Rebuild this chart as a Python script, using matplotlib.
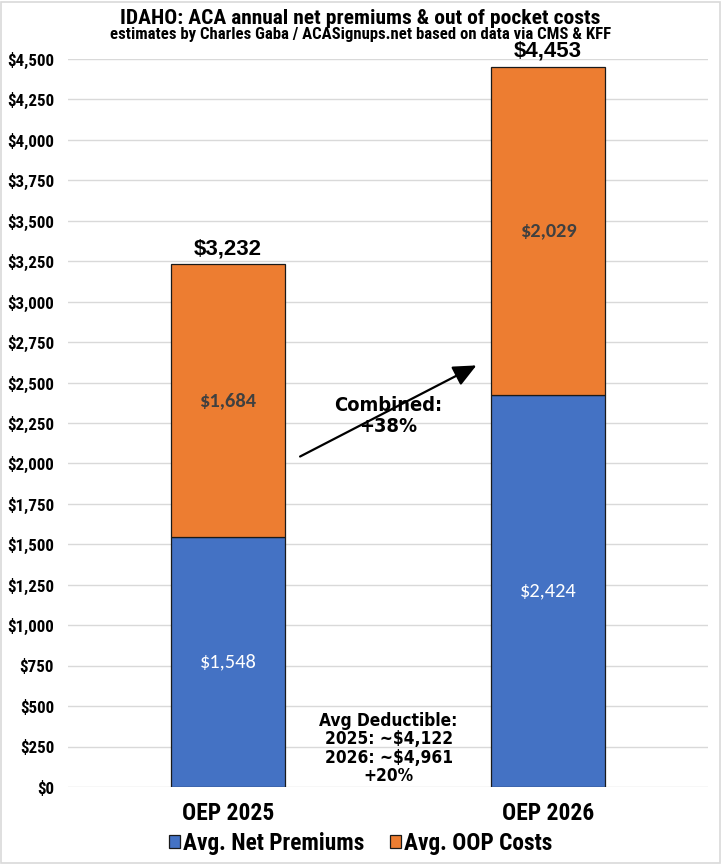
import numpy as np
import matplotlib.pyplot as plt
from matplotlib.patches import FancyArrowPatch, Rectangle

# 数据
cats = ['OEP 2025', 'OEP 2026']
premiums = [1548, 2424]
oop = [1684, 2029]
totals = [3232, 4453]
yticks = np.arange(0, 4750, 250)
series_names = ['Avg. Net Premiums', 'Avg. OOP Costs']
title = 'IDAHO: ACA annual net premiums & out of pocket costs'
subtitle = 'estimates by Charles Gaba / ACASignups.net based on data via CMS & KFF'
combined_txt = 'Combined:\n+38%'
deduct_txt = 'Avg Deductible:\n2025: ~$4,122\n2026: ~$4,961\n+20%'

narrow = ['Liberation Sans Narrow', 'Roboto Condensed', 'Archivo Narrow', 'DejaVu Sans']
rounded = ['Carlito', 'Lato', 'DejaVu Sans']
arial = ['Liberation Sans', 'DejaVu Sans']
blue = '#4472C4'
orange = '#ED7D31'

fig = plt.figure(figsize=(7.21, 8.64), dpi=100)
rend = fig.canvas.get_renderer()


def size_for(s, w, **kw):
    # 按目标像素宽度反推字号
    t = fig.text(0, 0, s, fontsize=10, **kw)
    bw = t.get_window_extent(rend).width
    t.remove()
    return 10.0 * w / bw


ax = fig.add_axes([0.0943, 0.0891, 0.8877, 0.8426])

x = np.arange(len(cats))
w = 0.354
ax.bar(x, premiums, w, color=blue, edgecolor='#1a1a1a', linewidth=0.9, label=series_names[0], zorder=3)
ax.bar(x, oop, w, bottom=premiums, color=orange, edgecolor='#1a1a1a', linewidth=0.9, label=series_names[1], zorder=3)

fs_in = size_for('$1,684', 57, family=rounded, fontweight='bold')
fs_tot = size_for('$3,232', 68, family=arial, fontweight='bold')
for i in range(len(cats)):
    ax.text(x[i], premiums[i] / 2, '${:,}'.format(premiums[i]), ha='center', va='center',
            color='white', fontsize=fs_in, family=rounded, zorder=4)
    ax.text(x[i], premiums[i] + oop[i] / 2, '${:,}'.format(oop[i]), ha='center', va='center',
            color='#404040', fontsize=fs_in, fontweight='bold', family=rounded, zorder=4)
    ax.text(x[i], totals[i] + 30, '${:,}'.format(totals[i]), ha='center', va='bottom',
            fontsize=fs_tot, fontweight='bold', family=arial, zorder=4, clip_on=False)

ax.set_xlim(-0.5, 1.5)
ax.set_ylim(0, 4500)
fs_y = size_for('$4,500', 47, family=narrow, fontweight='bold')
fs_x = size_for('OEP 2025', 92, family=narrow, fontweight='bold')
ax.set_yticks(yticks)
ax.set_yticklabels(['${:,}'.format(v) for v in yticks], fontsize=fs_y, fontweight='bold', family=narrow)
ax.set_xticks(x)
ax.set_xticklabels(cats, fontsize=fs_x, fontweight='bold', family=narrow)
ax.tick_params(length=0)
ax.tick_params(axis='y', pad=10)
ax.tick_params(axis='x', pad=11)
ax.grid(axis='y', color='#D9D9D9', linewidth=1, zorder=0)
for s in ax.spines.values():
    s.set_visible(False)

# 箭头
arr = FancyArrowPatch((0.2175, 2035), (0.784, 2614), arrowstyle='-|>,head_length=0.7,head_width=0.32',
                      mutation_scale=20, color='black', linewidth=1.6, zorder=5)
ax.add_patch(arr)

cond = dict(family='DejaVu Sans', fontweight='bold', fontstretch='condensed')
fs_c = size_for('Combined:', 108, **cond)
ax.text(0.50, 2293, combined_txt, ha='center', va='center', fontsize=fs_c,
        linespacing=26 / (fs_c * 100 / 72 * 1.17), zorder=6, **cond)

fs_d = size_for('Avg Deductible:', 138, **cond)
ax.text(0.502, 237, deduct_txt, ha='center', va='center', fontsize=fs_d,
        linespacing=21 / (fs_d * 100 / 72 * 1.17), zorder=6, clip_on=False, **cond)

fig.text(0.5, 0.979, title, ha='center', va='center',
         fontsize=size_for(title, 478, family=narrow, fontweight='bold'), fontweight='bold', family=narrow)
fig.text(0.5, 0.9595, subtitle, ha='center', va='center',
         fontsize=size_for(subtitle, 500, family=narrow, fontweight='bold'), fontweight='bold', family=narrow)

fs_l = size_for(series_names[0], 181, family=narrow, fontweight='bold')
px = fs_l * 100 / 72
fig.legend(loc='center', bbox_to_anchor=(0.5, 0.0243), ncol=2, frameon=False,
           prop={'family': narrow, 'weight': 'bold', 'size': fs_l}, handlelength=11 / px, handleheight=11 / px,
           columnspacing=25 / px, handletextpad=3 / px)

# 外框
fig.patches.append(Rectangle((0.001, 0.001), 0.997, 0.997, transform=fig.transFigure, fill=False,
                             edgecolor='#D9D9D9', linewidth=1.2))

plt.savefig('out.png', dpi=100)
